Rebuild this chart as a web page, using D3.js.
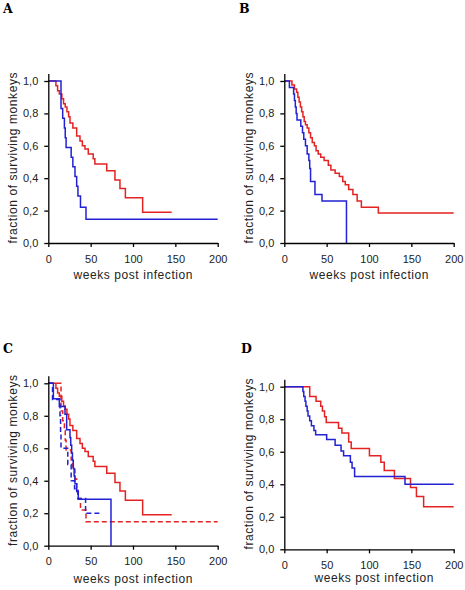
<!DOCTYPE html>
<html>
<head>
<meta charset="utf-8">
<script src="https://cdn.jsdelivr.net/npm/d3@7"></script>
<style>
  html, body { margin: 0; padding: 0; background: #fff; }
  svg { display: block; }
</style>
</head>
<body>
<svg id="chart" width="465" height="590"></svg>
<script>
// ---------------- data ----------------
const xTicks = [0, 50, 100, 150, 200];
const yTicks = [0, 0.2, 0.4, 0.6, 0.8, 1.0];
const yTickLabels = ["0,0", "0,2", "0,4", "0,6", "0,8", "1,0"];
const panelLetters = ["A", "B", "C", "D"];
const xTitle = "weeks post infection";
const yTitle = "fraction of surviving monkeys";

// Panel A
const aRedWeeks = [0, 9, 11, 13, 16, 18, 20, 22, 24, 25.6, 29, 33.5, 37.4, 40.2, 43.3, 47.2, 53, 55, 69, 78.7, 84.6, 91, 111.4, 145.7];
const aRedSurv  = [1, 0.97, 0.94, 0.92, 0.89, 0.86, 0.84, 0.81, 0.78, 0.74, 0.71, 0.66, 0.63, 0.60, 0.58, 0.55, 0.52, 0.488, 0.446, 0.389, 0.337, 0.28, 0.19, 0.19];
const aBlueWeeks = [0, 15, 17, 19, 20, 21, 27, 29, 31.5, 33.5, 35, 38, 44.5, 200];
const aBlueSurv  = [1, 0.83, 0.77, 0.71, 0.65, 0.59, 0.53, 0.47, 0.41, 0.35, 0.29, 0.22, 0.147, 0.147];

// Panel B
const bRedWeeks = [0, 9, 12, 14.5, 16, 17.5, 19, 20.5, 22, 23.5, 25, 27, 29, 31, 33, 35.5, 37.5, 40, 43, 47, 52, 55, 60, 65, 69, 72, 76, 81, 86, 91, 111, 200];
const bRedSurv  = [1, 0.975, 0.95, 0.93, 0.90, 0.87, 0.84, 0.81, 0.78, 0.75, 0.73, 0.71, 0.68, 0.65, 0.62, 0.60, 0.57, 0.55, 0.53, 0.51, 0.48, 0.45, 0.43, 0.41, 0.38, 0.36, 0.33, 0.30, 0.26, 0.22, 0.185, 0.185];
const bBlueWeeks = [0, 6, 11, 12, 13, 14, 15, 19.5, 21.5, 23, 25, 27, 29, 30, 31, 36.2, 44.5, 73.4, 73.4];
const bBlueSurv  = [1, 0.96, 0.92, 0.88, 0.84, 0.80, 0.76, 0.72, 0.68, 0.64, 0.60, 0.55, 0.51, 0.46, 0.38, 0.30, 0.26, 0.26, 0];

// Panel C (solid red = A red, dashed red = A blue)
const cRedWeeks = aRedWeeks, cRedSurv = aRedSurv;
const cRedDashWeeks = aBlueWeeks, cRedDashSurv = aBlueSurv;
const cBlueWeeks = [0, 6, 13, 19.7, 21.7, 25.6, 26.5, 27.6, 28.5, 29.5, 30.5, 31.5, 33.5, 35.4, 74, 74];
const cBlueSurv  = [1, 0.905, 0.857, 0.81, 0.714, 0.667, 0.619, 0.571, 0.524, 0.476, 0.429, 0.381, 0.333, 0.286, 0.286, 0];
const cBlueDashWeeks = [0, 5, 13.8, 14.5, 15, 23, 27, 31, 35, 44, 63];
const cBlueDashSurv  = [1, 0.9, 0.8, 0.7, 0.6, 0.5, 0.4, 0.35, 0.29, 0.2, 0.2];

// Panel D
const dRedWeeks = [0, 30, 37.5, 43, 45, 47.5, 49.5, 64, 68, 76, 79, 100.5, 114, 118, 130, 149, 156, 164.5, 200];
const dRedSurv  = [1, 0.94, 0.91, 0.88, 0.85, 0.815, 0.78, 0.745, 0.715, 0.66, 0.62, 0.575, 0.535, 0.485, 0.435, 0.38, 0.325, 0.262, 0.262];
const dBlueWeeks = [0, 22, 23, 24.5, 25.5, 27, 28, 30, 32, 35, 37, 50, 60, 67, 70, 78, 80, 83, 142.5, 200];
const dBlueSurv  = [1, 0.97, 0.94, 0.91, 0.88, 0.85, 0.82, 0.79, 0.76, 0.73, 0.705, 0.675, 0.64, 0.605, 0.575, 0.535, 0.50, 0.447, 0.40, 0.40];

// ---------------- layout & style ----------------
const RED = "#e52222", BLUE = "#2222d4";
const panels = [
  { letter: panelLetters[0], lx: 3, ly: 13, x0: 48.3, x1: 217.7, y0: 243, y1: 81, xt: 36, xtx: 0,
    series: [[aRedWeeks, aRedSurv, RED, false], [aBlueWeeks, aBlueSurv, BLUE, false]] },
  { letter: panelLetters[1], lx: 239, ly: 13, x0: 284.3, x1: 453.7, y0: 243, y1: 81, xt: 36, xtx: 0,
    series: [[bRedWeeks, bRedSurv, RED, false], [bBlueWeeks, bBlueSurv, BLUE, false]] },
  { letter: panelLetters[2], lx: 3, ly: 353, x0: 48.3, x1: 217.7, y0: 545.7, y1: 383.3, xt: 37.5, xtx: 0,
    series: [[cRedDashWeeks, cRedDashSurv, RED, true], [cRedWeeks, cRedSurv, RED, false],
             [cBlueDashWeeks, cBlueDashSurv, BLUE, true], [cBlueWeeks, cBlueSurv, BLUE, false]] },
  { letter: panelLetters[3], lx: 241, ly: 353, x0: 284.3, x1: 453.7, y0: 549.3, y1: 386.7, xt: 32.5, xtx: 5,
    series: [[dRedWeeks, dRedSurv, RED, false], [dBlueWeeks, dBlueSurv, BLUE, false]] }
];

const svg = d3.select("#chart");
const FONT = "'Liberation Sans', Arial, sans-serif";

panels.forEach(p => {
  const x = d3.scaleLinear().domain([0, 200]).range([p.x0, p.x1]);
  const y = d3.scaleLinear().domain([0, 1]).range([p.y0, p.y1]);
  const yAx = d3.scaleLinear().domain([0, 1.046]).range([p.y0, p.y0 - (p.y0 - p.y1) * 1.046]);
  const g = svg.append("g");

  // curves
  const line = d3.line().x(d => x(d[0])).y(d => y(d[1])).curve(d3.curveStepAfter);
  p.series.forEach(([wk, sv, col, dashed]) => {
    const pts = wk.map((w, i) => [w, sv[i]]);
    g.append("path")
      .attr("d", line(pts))
      .attr("fill", "none")
      .attr("stroke", col)
      .attr("stroke-width", 1.5)
      .attr("stroke-dasharray", dashed ? "5,3" : null);
  });

  // y axis
  const ya = g.append("g").attr("transform", `translate(${p.x0},0)`)
    .call(d3.axisLeft(yAx).tickValues(yTicks).tickFormat((d, i) => yTickLabels[i])
      .tickSizeInner(4).tickSizeOuter(0).tickPadding(6));
  // x axis
  const xa = g.append("g").attr("transform", `translate(0,${p.y0})`)
    .call(d3.axisBottom(x).tickValues(xTicks).tickFormat(d3.format("d"))
      .tickSizeInner(4).tickSizeOuter(0).tickPadding(8));
  [ya, xa].forEach(a => {
    a.selectAll("path, line").attr("stroke", "#000").attr("stroke-width", 1.3);
    a.selectAll("text").attr("font-family", FONT).attr("font-size", 11).attr("fill", "#222");
  });

  // axis titles
  g.append("text")
    .attr("x", (p.x0 + p.x1) / 2 + p.xtx)
    .attr("y", p.y0 + p.xt)
    .attr("text-anchor", "middle")
    .attr("font-family", FONT).attr("font-size", 12).attr("fill", "#222")
    .attr("textLength", 119).attr("lengthAdjust", "spacing")
    .text(xTitle);
  const cy = (p.y0 + p.y1) / 2 - 4;
  g.append("text")
    .attr("transform", `translate(${p.x0 - 31},${cy}) rotate(-90)`)
    .attr("text-anchor", "middle")
    .attr("font-family", FONT).attr("font-size", 12).attr("fill", "#222")
    .attr("textLength", 171).attr("lengthAdjust", "spacing")
    .text(yTitle);

  // panel letter
  svg.append("text")
    .attr("x", p.lx).attr("y", p.ly)
    .attr("font-family", "'DejaVu Serif', serif").attr("font-weight", "bold")
    .attr("font-size", 12.5).attr("fill", "#000")
    .text(p.letter);
});
</script>
</body>
</html>
